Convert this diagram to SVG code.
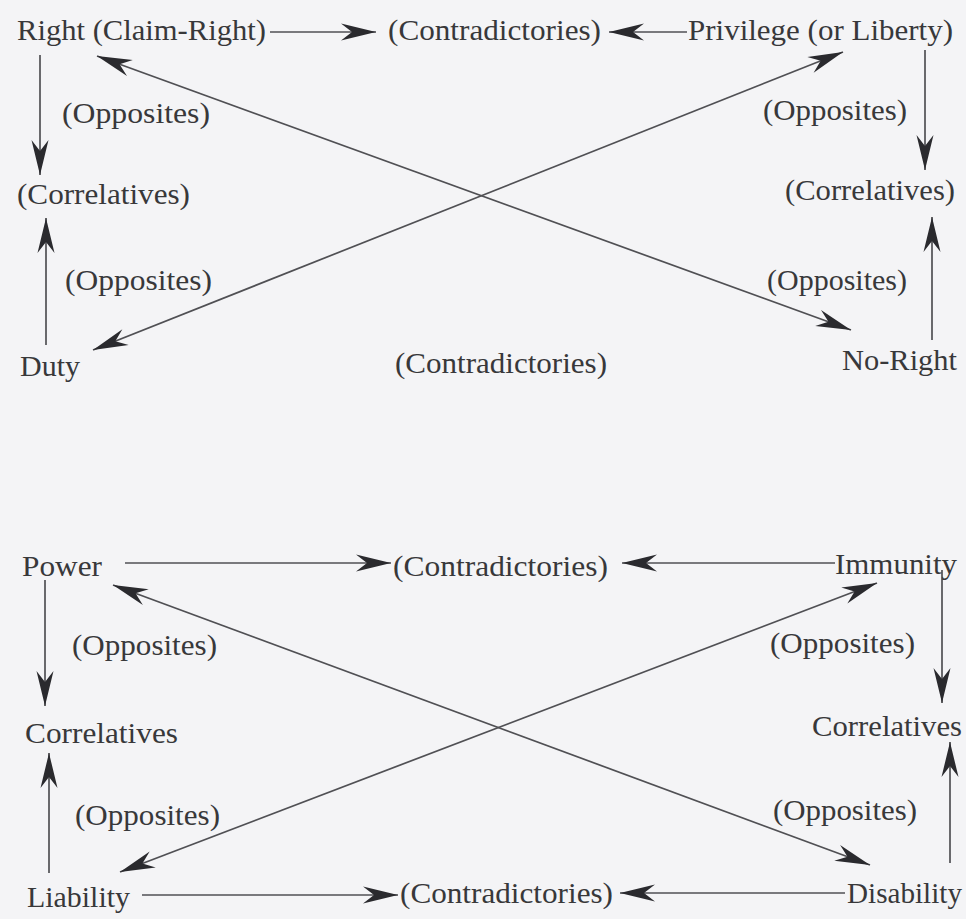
<svg xmlns="http://www.w3.org/2000/svg" width="966" height="919" viewBox="0 0 966 919">
<style>
text{font-family:"Liberation Serif","Times New Roman",serif;font-size:29px;fill:#38383a}
.c line{stroke:#505054;stroke-width:1.7;fill:none}
.a{marker-end:url(#ah)}
.b{marker-start:url(#ah);marker-end:url(#ah)}
</style>
<defs>
<marker id="ah" viewBox="-37 -10 38 20" refX="0" refY="0" markerWidth="38" markerHeight="20" markerUnits="userSpaceOnUse" orient="auto-start-reverse">
<path d="M0,0 L-35,-8.5 L-24,0 L-35,8.5 Z" fill="#2a2a2e"/>
</marker>
</defs>
<rect width="966" height="919" fill="#f4f4f6"/>
<g class="c" id="connectors">
<line class="a" x1="270" y1="32" x2="376" y2="32"/>
<line class="a" x1="687" y1="32" x2="609" y2="32"/>
<line class="a" x1="40" y1="55" x2="40" y2="175"/>
<line class="a" x1="46" y1="345" x2="46" y2="218"/>
<line class="a" x1="925" y1="50" x2="925" y2="170"/>
<line class="a" x1="932" y1="340" x2="932" y2="217"/>
<line class="b" x1="97" y1="56" x2="851" y2="330"/>
<line class="b" x1="843" y1="52" x2="93" y2="350"/>
<line class="a" x1="125" y1="563" x2="391" y2="563"/>
<line class="a" x1="835" y1="563" x2="622" y2="563"/>
<line class="a" x1="142" y1="895" x2="398" y2="895"/>
<line class="a" x1="845" y1="893" x2="620" y2="893"/>
<line class="a" x1="45" y1="580" x2="45" y2="706"/>
<line class="a" x1="49" y1="873" x2="49" y2="753"/>
<line class="a" x1="942" y1="570" x2="942" y2="703"/>
<line class="a" x1="950" y1="863" x2="950" y2="742"/>
<line class="b" x1="113" y1="585" x2="870" y2="865"/>
<line class="b" x1="877" y1="583" x2="120" y2="872"/>
</g>
<g id="right"><text x="17" y="40" textLength="249" lengthAdjust="spacingAndGlyphs">Right (Claim-Right)</text></g>
<g id="contra1"><text x="388" y="40" textLength="213" lengthAdjust="spacingAndGlyphs">(Contradictories)</text></g>
<g id="privilege"><text x="688" y="40" textLength="265" lengthAdjust="spacingAndGlyphs">Privilege (or Liberty)</text></g>
<g id="opp1"><text x="62" y="123" textLength="148" lengthAdjust="spacingAndGlyphs">(Opposites)</text></g>
<g id="opp2"><text x="763" y="120" textLength="144" lengthAdjust="spacingAndGlyphs">(Opposites)</text></g>
<g id="corr1"><text x="17" y="204" textLength="173" lengthAdjust="spacingAndGlyphs">(Correlatives)</text></g>
<g id="corr2"><text x="785" y="200" textLength="170" lengthAdjust="spacingAndGlyphs">(Correlatives)</text></g>
<g id="opp3"><text x="65" y="290" textLength="147" lengthAdjust="spacingAndGlyphs">(Opposites)</text></g>
<g id="opp4"><text x="767" y="290" textLength="140" lengthAdjust="spacingAndGlyphs">(Opposites)</text></g>
<g id="duty"><text x="20" y="376" textLength="60" lengthAdjust="spacingAndGlyphs">Duty</text></g>
<g id="contra2"><text x="395" y="373" textLength="212" lengthAdjust="spacingAndGlyphs">(Contradictories)</text></g>
<g id="noright"><text x="842" y="370" textLength="115" lengthAdjust="spacingAndGlyphs">No-Right</text></g>
<g id="power"><text x="22" y="576" textLength="80" lengthAdjust="spacingAndGlyphs">Power</text></g>
<g id="contra3"><text x="393" y="576" textLength="215" lengthAdjust="spacingAndGlyphs">(Contradictories)</text></g>
<g id="immunity"><text x="835" y="574" textLength="122" lengthAdjust="spacingAndGlyphs">Immunity</text></g>
<g id="opp5"><text x="72" y="655" textLength="145" lengthAdjust="spacingAndGlyphs">(Opposites)</text></g>
<g id="opp6"><text x="770" y="653" textLength="145" lengthAdjust="spacingAndGlyphs">(Opposites)</text></g>
<g id="corr3"><text x="25" y="743" textLength="153" lengthAdjust="spacingAndGlyphs">Correlatives</text></g>
<g id="corr4"><text x="812" y="736" textLength="150" lengthAdjust="spacingAndGlyphs">Correlatives</text></g>
<g id="opp7"><text x="75" y="825" textLength="145" lengthAdjust="spacingAndGlyphs">(Opposites)</text></g>
<g id="opp8"><text x="773" y="820" textLength="144" lengthAdjust="spacingAndGlyphs">(Opposites)</text></g>
<g id="liability"><text x="27" y="907" textLength="103" lengthAdjust="spacingAndGlyphs">Liability</text></g>
<g id="contra4"><text x="400" y="903" textLength="213" lengthAdjust="spacingAndGlyphs">(Contradictories)</text></g>
<g id="disability"><text x="847" y="903" textLength="115" lengthAdjust="spacingAndGlyphs">Disability</text></g>
</svg>
